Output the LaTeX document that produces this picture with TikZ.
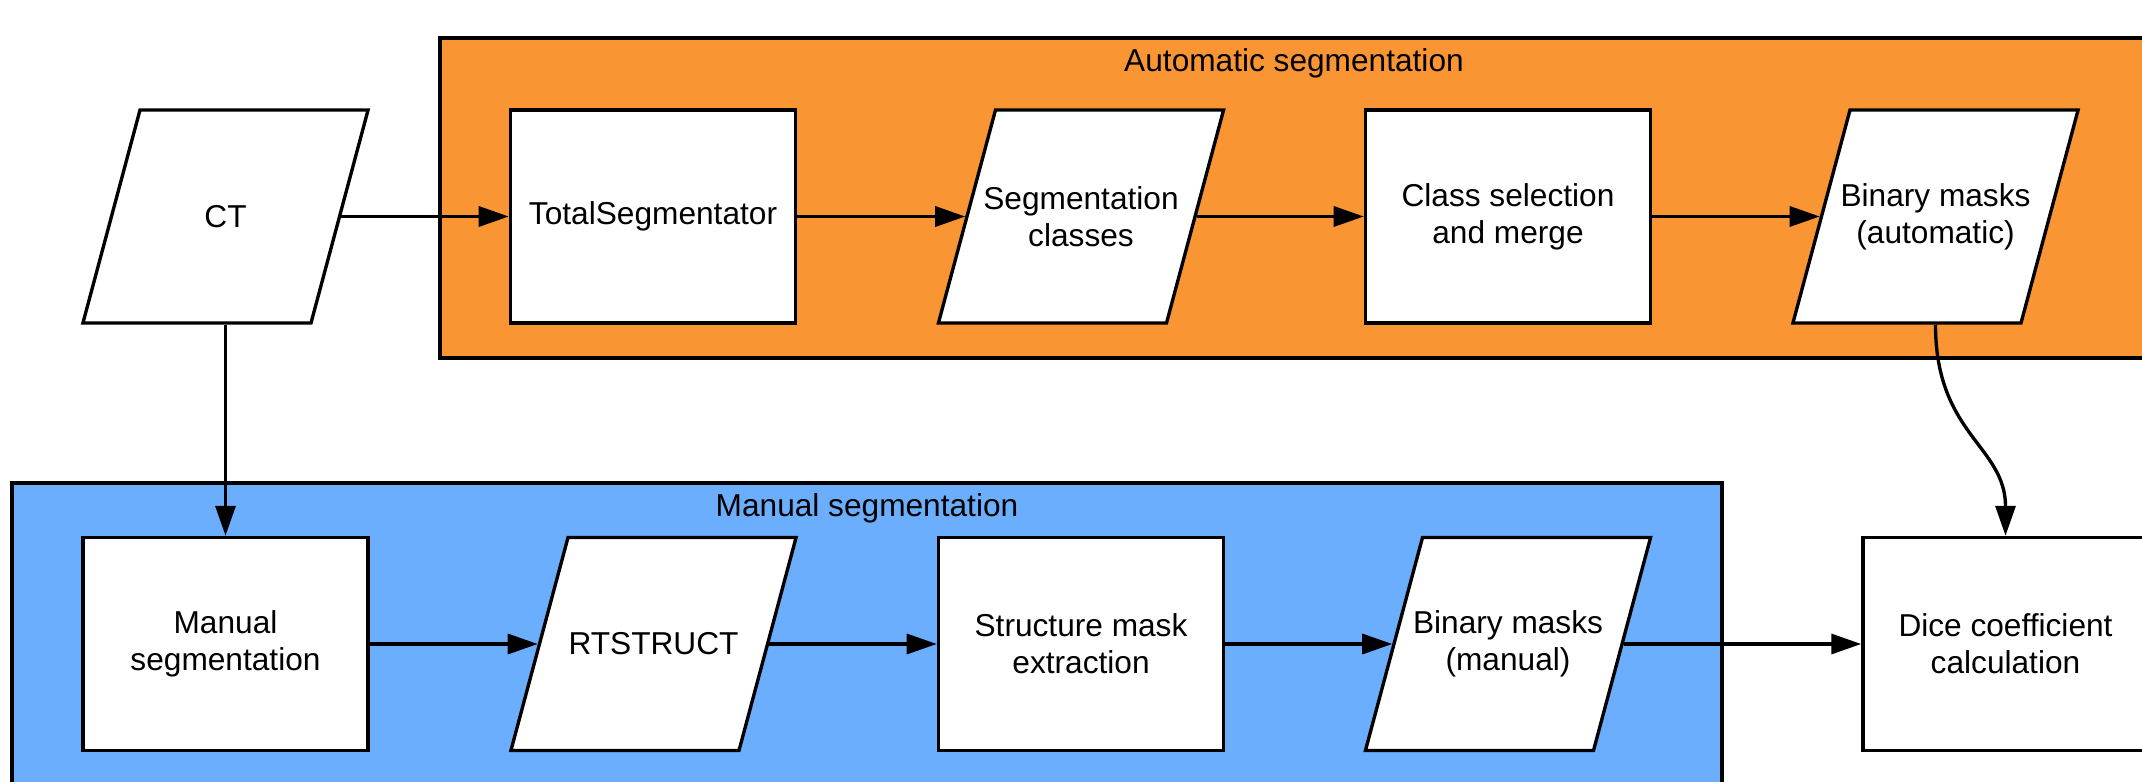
\documentclass[tikz,border=0pt]{standalone}
\usepackage{fontspec}
\setmainfont{Liberation Sans}[Ligatures=NoCommon]
\usetikzlibrary{arrows.meta,shapes.geometric}

\definecolor{autoorange}{RGB}{250,149,52}
\definecolor{manualblue}{RGB}{108,174,254}

\tikzset{
  procbox/.style={draw, fill=white, line width=0.95pt, minimum width=2.85cm,
    minimum height=2.13cm, align=center, inner sep=0pt},
  databox/.style={trapezium, trapezium left angle=75, trapezium right angle=105,
    trapezium stretches body=true, draw, fill=white, line width=0.95pt,
    minimum width=2.85cm, inner xsep=0.5cm, inner ysep=1.065cm,
    label={[align=center]center:#1}},
  flow/.style={line width=0.95pt, -{Triangle[length=0.3cm,width=0.2cm]}},
  group/.style={draw, line width=0.95pt},
}

\begin{document}
\begin{tikzpicture}[x=0.01cm, y=-0.01cm, font=\fontsize{9}{10.5}\selectfont]
    \clip (0,0) rectangle (2142,782);

    % Groups
    \draw[group, fill=autoorange] (440,38) rectangle (2160,358);
    \draw[group, fill=manualblue] (12,483) rectangle (1722,800);
    \node (autotitle) at (1294,63) {Automatic segmentation};
    \node (manualtitle) at (867,508) {Manual segmentation};

    % Automatic segmentation row
    \node[databox={CT}] (ct) at (225.5,216.5) {};
    \node[procbox] (totalseg) at (653,216.5) {TotalSegmentator};
    \node[databox={Segmentation\\classes}] (segclasses) at (1081,216.5) {};
    \node[procbox] (classsel) at (1508,216.5) {Class selection\\and merge};
    \node[databox={Binary masks\\(automatic)}] (binauto) at (1935.5,216.5) {};

    % Manual segmentation row
    \node[procbox] (manseg) at (225.5,644) {Manual\\segmentation};
    \node[databox={RTSTRUCT}] (rtstruct) at (653.5,644) {};
    \node[procbox] (structmask) at (1081,644) {Structure mask\\extraction};
    \node[databox={Binary masks\\(manual)}] (binman) at (1508,644) {};

    % Comparison
    \node[procbox] (dice) at (2005.5,644) {Dice coefficient\\calculation};

    % Arrows
    \draw[flow] (ct) -- (totalseg);
    \draw[flow] (totalseg) -- (segclasses);
    \draw[flow] (segclasses) -- (classsel);
    \draw[flow] (classsel) -- (binauto);
    \draw[flow] (ct) -- (manseg);
    \draw[flow] (manseg) -- (rtstruct);
    \draw[flow] (rtstruct) -- (structmask);
    \draw[flow] (structmask) -- (binman);
    \draw[flow] (binman) -- (dice);
    \draw[flow] (binauto.south) .. controls +(0,110) and +(0,-90) .. (dice.north);
\end{tikzpicture}
\end{document}
